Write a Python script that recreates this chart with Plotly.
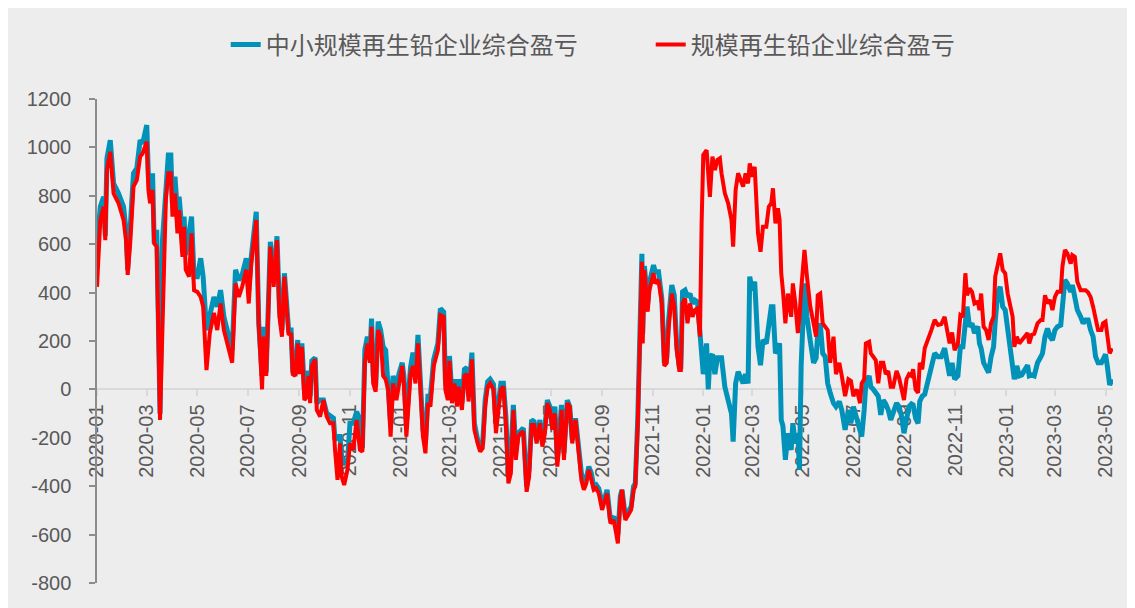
import plotly.graph_objects as go

dates = [
"2020-01-01","2020-01-05","2020-01-09","2020-01-11","2020-01-13","2020-01-17","2020-01-21","2020-01-27",
"2020-02-02","2020-02-05","2020-02-07","2020-02-10","2020-02-14","2020-02-18","2020-02-22","2020-02-25",
"2020-03-01","2020-03-03","2020-03-05","2020-03-08","2020-03-10","2020-03-13","2020-03-17","2020-03-20",
"2020-03-24","2020-03-27","2020-03-30","2020-04-01","2020-04-04","2020-04-07","2020-04-09","2020-04-13",
"2020-04-15","2020-04-17","2020-04-21","2020-04-24","2020-04-27","2020-05-01","2020-05-05","2020-05-08",
"2020-05-12","2020-05-16","2020-05-21","2020-05-25","2020-05-29","2020-06-02","2020-06-06","2020-06-09",
"2020-06-12","2020-06-16","2020-06-20","2020-06-24","2020-06-29","2020-07-02","2020-07-05","2020-07-11",
"2020-07-14","2020-07-18","2020-07-20","2020-07-23","2020-07-25","2020-07-28","2020-08-01","2020-08-05",
"2020-08-08","2020-08-11","2020-08-14","2020-08-17","2020-08-19","2020-08-22","2020-08-24","2020-08-27",
"2020-08-30","2020-09-01","2020-09-04","2020-09-07","2020-09-10","2020-09-12","2020-09-14","2020-09-16",
"2020-09-20","2020-09-22","2020-09-26","2020-09-30","2020-10-04","2020-10-08","2020-10-12","2020-10-14",
"2020-10-17","2020-10-20","2020-10-22","2020-10-25","2020-10-29","2020-11-01","2020-11-05","2020-11-09",
"2020-11-13","2020-11-16","2020-11-19","2020-11-22","2020-11-25","2020-11-27","2020-11-29","2020-12-02",
"2020-12-05","2020-12-08","2020-12-11","2020-12-14","2020-12-17","2020-12-20","2020-12-23","2020-12-27",
"2020-12-30","2021-01-03","2021-01-05","2021-01-08","2021-01-11","2021-01-13","2021-01-16","2021-01-19",
"2021-01-22","2021-01-25","2021-01-28","2021-01-31","2021-02-03","2021-02-06","2021-02-10","2021-02-15",
"2021-02-18","2021-02-22","2021-02-24","2021-02-27","2021-03-01","2021-03-04","2021-03-07","2021-03-10",
"2021-03-12","2021-03-16","2021-03-19","2021-03-22","2021-03-24","2021-03-28","2021-03-31","2021-04-04",
"2021-04-07","2021-04-10","2021-04-13","2021-04-16","2021-04-19","2021-04-23","2021-04-26","2021-04-29",
"2021-05-02","2021-05-05","2021-05-08","2021-05-11","2021-05-14","2021-05-17","2021-05-20","2021-05-23",
"2021-05-26","2021-05-29","2021-06-02","2021-06-05","2021-06-08","2021-06-11","2021-06-14","2021-06-18",
"2021-06-21","2021-06-24","2021-06-27","2021-06-30","2021-07-03","2021-07-06","2021-07-09","2021-07-12",
"2021-07-14","2021-07-17","2021-07-21","2021-07-24","2021-07-27","2021-07-31","2021-08-04","2021-08-07",
"2021-08-10","2021-08-13","2021-08-16","2021-08-19","2021-08-22","2021-08-25","2021-08-28","2021-09-01",
"2021-09-05","2021-09-07","2021-09-11","2021-09-15","2021-09-18","2021-09-20","2021-09-23","2021-09-25",
"2021-09-29","2021-10-03","2021-10-06","2021-10-09","2021-10-11","2021-10-14","2021-10-16","2021-10-18",
"2021-10-19","2021-10-20","2021-10-22","2021-10-26","2021-10-28","2021-11-02","2021-11-04","2021-11-08",
"2021-11-12","2021-11-15","2021-11-18","2021-11-20","2021-11-24","2021-11-27","2021-11-30","2021-12-03",
"2021-12-05","2021-12-07","2021-12-10","2021-12-13","2021-12-16","2021-12-19","2021-12-22","2021-12-25",
"2021-12-28","2021-12-30","2022-01-01","2022-01-05","2022-01-07","2022-01-09","2022-01-12","2022-01-15",
"2022-01-18","2022-01-21","2022-01-23","2022-01-27","2022-01-31","2022-02-04","2022-02-06","2022-02-09",
"2022-02-12","2022-02-15","2022-02-18","2022-02-21","2022-02-24","2022-02-26","2022-03-01","2022-03-04",
"2022-03-08","2022-03-11","2022-03-14","2022-03-18","2022-03-21","2022-03-24","2022-03-26","2022-03-29",
"2022-04-01","2022-04-03","2022-04-05","2022-04-07","2022-04-10","2022-04-13","2022-04-17","2022-04-19",
"2022-04-22","2022-04-25","2022-04-27","2022-04-29","2022-05-03","2022-05-06","2022-05-10","2022-05-14",
"2022-05-17","2022-05-19","2022-05-22","2022-05-25","2022-05-28","2022-05-31","2022-06-03","2022-06-07",
"2022-06-10","2022-06-14","2022-06-17","2022-06-21","2022-06-25","2022-06-28","2022-07-01","2022-07-05",
"2022-07-09","2022-07-11","2022-07-14","2022-07-16","2022-07-20","2022-07-22","2022-07-25","2022-07-28",
"2022-07-31","2022-08-03","2022-08-06","2022-08-09","2022-08-12","2022-08-15","2022-08-18","2022-08-22",
"2022-08-25","2022-08-28","2022-08-31","2022-09-03","2022-09-06","2022-09-09","2022-09-11","2022-09-14",
"2022-09-17","2022-09-19","2022-09-22","2022-09-25","2022-09-29","2022-10-03","2022-10-07","2022-10-11",
"2022-10-15","2022-10-19","2022-10-22","2022-10-25","2022-10-28","2022-10-31","2022-11-04","2022-11-07",
"2022-11-10","2022-11-13","2022-11-15","2022-11-18","2022-11-21","2022-11-24","2022-11-28","2022-11-30",
"2022-12-02","2022-12-05","2022-12-08","2022-12-11","2022-12-14","2022-12-17","2022-12-19","2022-12-22",
"2022-12-25","2022-12-28","2022-12-31","2023-01-03","2023-01-06","2023-01-09","2023-01-11","2023-01-14",
"2023-01-17","2023-01-20","2023-01-23","2023-01-27","2023-01-29","2023-02-01","2023-02-04","2023-02-08",
"2023-02-12","2023-02-14","2023-02-17","2023-02-20","2023-02-23","2023-02-26","2023-03-01","2023-03-04",
"2023-03-08","2023-03-10","2023-03-13","2023-03-16","2023-03-20","2023-03-22","2023-03-25","2023-03-28",
"2023-04-01","2023-04-04","2023-04-07","2023-04-10","2023-04-13","2023-04-16","2023-04-19","2023-04-22",
"2023-04-26","2023-04-28","2023-05-01","2023-05-03","2023-05-06","2023-05-09",
]

small_medium = [
590,755,796,633,955,1030,851,810,
755,659,494,659,893,914,1030,1015,
1092,879,824,893,603,659,-100,620,
865,969,969,769,879,731,796,633,
714,555,645,714,466,466,542,466,
245,300,382,342,410,300,245,204,
162,494,452,473,542,410,548,734,
273,56,259,70,273,610,452,633,
328,245,480,355,245,245,76,70,
204,76,190,0,56,76,-28,118,
131,-57,-44,-44,-99,-112,-119,-209,
-195,-195,-278,-305,-305,-140,-140,-92,
-126,-243,165,218,138,293,56,11,
280,245,176,162,25,-140,56,0,
63,110,56,-140,0,90,152,56,
225,56,-167,-223,-28,-28,124,190,
334,320,40,-28,138,-28,42,-44,
42,-57,83,90,-30,152,-140,-209,
-243,-223,-44,32,42,21,-140,-57,
25,25,-112,-360,-278,-64,-250,-181,
-167,-160,-402,-332,-126,-133,-209,-126,
-223,-160,-44,-71,-153,-71,-291,-181,
-64,-264,-44,-71,-209,-119,-264,-346,
-388,-367,-319,-346,-402,-395,-410,-470,
-440,-415,-540,-525,-570,-600,-440,-415,
-525,-500,-485,-400,-390,-120,220,530,
560,230,510,355,440,514,486,486,
376,110,130,280,431,390,180,95,
95,403,410,382,396,355,369,362,
245,200,63,190,0,131,145,63,
131,131,131,11,-44,-100,-216,25,
73,50,25,63,25,466,410,445,
176,100,204,190,287,342,342,149,
170,190,-126,-150,-291,-181,-250,-140,
-223,-180,-332,97,438,300,200,110,
130,230,273,149,135,25,-14,-57,
-71,-50,-85,-167,-85,-140,-71,-120,
-160,-195,-85,25,56,11,0,-14,
-28,-105,-44,-60,-85,-126,-90,-57,
-71,-110,-181,-126,-71,-60,-64,-119,
-140,-50,-28,-20,42,97,149,135,
135,170,110,56,110,42,56,176,
176,260,342,259,273,233,260,190,
170,110,83,69,135,176,280,400,
424,342,328,240,149,90,42,97,
56,60,76,100,56,60,56,110,
135,149,218,252,218,204,245,259,
266,369,452,438,403,431,380,328,
300,273,287,287,245,218,135,110,
110,124,145,100,18,42,
]

large = [
424,700,755,617,907,982,810,769,
700,617,473,603,838,865,962,975,
1024,824,769,824,603,590,-126,300,
783,893,893,714,810,645,741,548,
672,494,466,645,410,403,382,342,
80,233,316,245,355,245,190,135,
110,438,382,424,494,355,520,700,
273,0,218,56,245,590,424,617,
300,218,466,328,225,233,63,56,
190,63,176,-44,-30,56,-57,97,
124,-85,-112,-44,-112,-140,-140,-250,
-374,-223,-360,-395,-332,-223,-250,-126,
-250,-257,110,190,110,259,25,-9,
245,218,56,42,0,-195,25,-44,
25,97,25,-195,-44,63,97,25,
190,25,-195,-264,-57,-71,97,162,
307,300,0,-44,118,-57,25,-71,
11,-85,56,63,-50,124,-167,-223,
-257,-243,-71,11,25,0,-181,-85,
0,11,-140,-388,-346,-85,-291,-195,
-181,-174,-423,-360,-147,-147,-223,-140,
-236,-181,-57,-85,-167,-99,-319,-209,
-85,-291,-57,-71,-223,-126,-291,-374,
-415,-388,-332,-367,-415,-408,-430,-498,
-457,-430,-553,-540,-595,-636,-457,-415,
-540,-512,-498,-415,-401,-140,204,466,
527,190,494,321,410,480,438,452,
355,97,110,245,396,342,162,80,
80,355,376,273,355,300,328,335,
218,686,969,989,880,796,962,907,
948,955,893,810,769,700,590,824,
893,865,838,893,851,934,879,920,
645,569,672,672,755,769,831,686,
748,700,480,410,273,396,300,438,
355,233,300,410,576,466,342,273,
218,389,396,273,259,245,110,218,
63,110,56,-28,42,35,-28,0,
-57,25,42,190,197,149,135,120,
25,110,110,63,76,11,11,76,
49,0,-44,42,63,56,83,0,
-14,110,83,170,204,245,287,266,
270,300,245,190,235,162,190,307,
300,480,389,417,403,355,362,328,
396,259,245,204,273,300,466,507,
562,494,480,396,355,300,176,218,
190,204,218,233,190,225,230,273,
287,287,389,355,370,328,382,403,
403,507,576,562,520,555,548,445,
410,410,410,400,382,342,287,245,
245,273,280,218,149,170,
]

series_names = ["中小规模再生铅企业综合盈亏", "规模再生铅企业综合盈亏"]
y_ticks = [-800, -600, -400, -200, 0, 200, 400, 600, 800, 1000, 1200]
y_tick_text = [str(v) for v in y_ticks]

BG = "#eeedee"
TXT = "#595959"

fig = go.Figure()
fig.add_trace(go.Scatter(x=dates, y=small_medium, mode="lines", name=series_names[0],
                         line=dict(color="#0092b8", width=5)))
fig.add_trace(go.Scatter(x=dates, y=large, mode="lines", name=series_names[1],
                         line=dict(color="#ff0000", width=4)))

fig.update_layout(
    width=1135, height=608,
    margin=dict(l=89, r=30, t=91, b=33),
    paper_bgcolor=BG, plot_bgcolor=BG,
    showlegend=True,
    legend=dict(orientation="h", x=0.545, xanchor="center", y=1.112, yanchor="middle",
                font=dict(family="Noto Sans CJK SC", size=24, color=TXT),
                bgcolor="rgba(0,0,0,0)", entrywidth=380, entrywidthmode="pixels"),
    xaxis=dict(
        type="date", range=["2020-01-01", "2023-05-10"],
        tick0="2020-01-01", dtick="M2", tickformat="%Y-%m", tickangle=-90,
        anchor="free", position=0.4,
        showline=True, linecolor="#d9d9d9", linewidth=2,
        ticks="outside", ticklen=6, tickcolor="#d9d9d9", tickwidth=1.5,
        showgrid=False, zeroline=False, automargin=False,
        tickfont=dict(family="Liberation Sans", size=20, color=TXT),
        layer="below traces",
    ),
    yaxis=dict(
        range=[-800, 1200], tickvals=y_ticks, ticktext=y_tick_text,
        showgrid=False, zeroline=False,
        showline=True, linecolor="#8c8c8c", linewidth=1.5,
        ticks="outside", ticklen=6, tickcolor="#8c8c8c", tickwidth=1.5,
        tickfont=dict(family="Liberation Sans", size=20, color=TXT),
        ticklabelstandoff=14, automargin=False,
    ),
)

fig.write_html("out.html")
